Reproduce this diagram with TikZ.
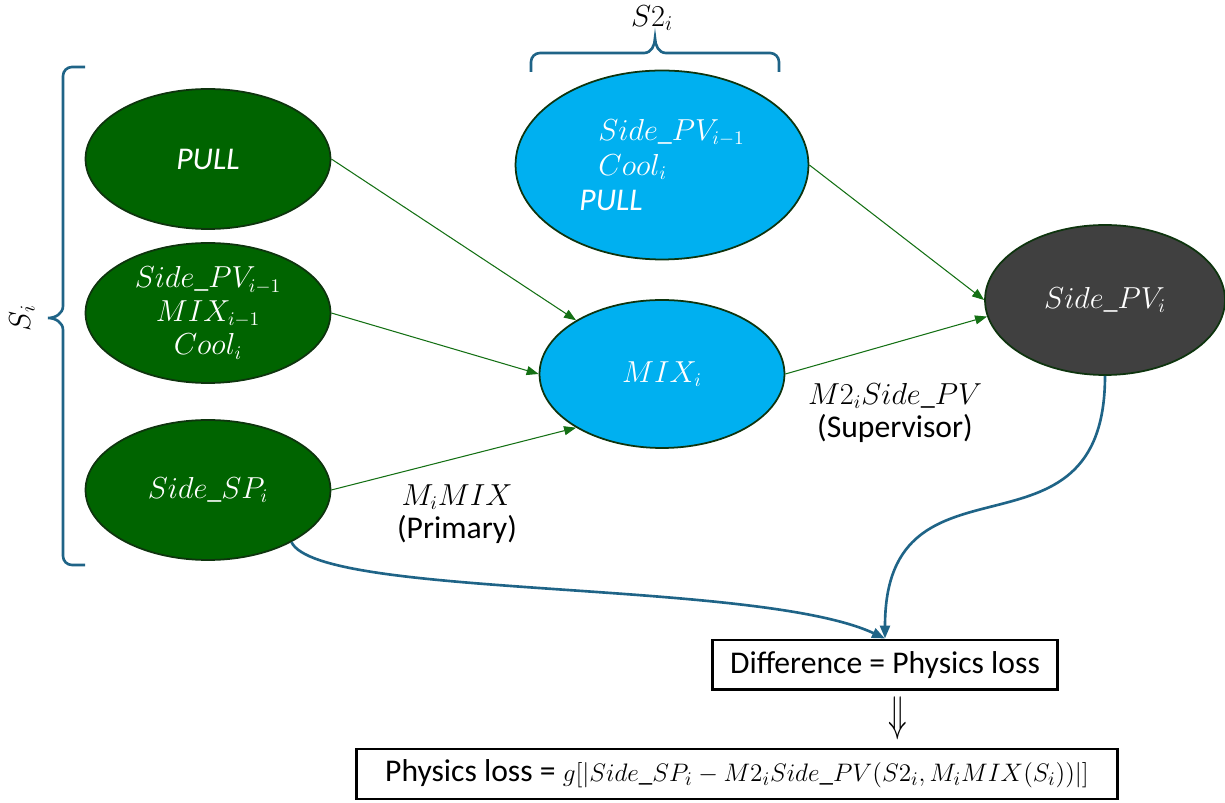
\documentclass[tikz,border=0pt]{standalone}
\usepackage{fontspec}
\setmainfont{Carlito}
\usetikzlibrary{shapes.geometric,arrows.meta}
\definecolor{leafgreen}{RGB}{0,100,0}
\definecolor{skyblue}{RGB}{0,176,240}
\definecolor{darkgray}{RGB}{64,64,64}
\definecolor{edgegreen}{RGB}{14,52,14}
\definecolor{flowgreen}{RGB}{20,112,20}
\definecolor{lossblue}{RGB}{31,100,135}
\newcommand{\mth}[1]{{\fontsize{16}{19}\selectfont$#1$}}
\newcommand{\mthsmall}[1]{{\fontsize{15.4}{19}\selectfont$#1$}}

\begin{document}
\begin{tikzpicture} % 1 unita' = 1 pixel del disegno
  [x=0.02cm, y=-0.02cm,
   ell/.style={
    ellipse,
    draw=edgegreen,
    line width=1pt,
    text=white,
    inner sep=-4pt,
    minimum width=4.9cm,
    minimum height=2.8cm,
    align=center,
    font=\fontsize{16}{19}\selectfont
    },
   greenell/.style={ell, fill=leafgreen},
   blueell/.style={ell, fill=skyblue},
   darkell/.style={ell, fill=darkgray},
   box/.style={
    rectangle,
    draw=black,
    line width=1.7pt,
    minimum height=1cm,
    inner xsep=4pt,
    font=\fontsize{18}{21}\selectfont
    },
   lbl/.style={align=center, font=\fontsize{18}{19}\selectfont},
   flow/.style={-{Triangle[length=0.24cm,width=0.18cm]}, draw=flowgreen, line width=0.6pt},
   loss/.style={-{Triangle[length=0.26cm,width=0.2cm]}, draw=lossblue, line width=1.5pt},
   brace/.style={draw=lossblue, line width=1.5pt}
  ]
  \useasboundingbox (0,0) rectangle (1225,803);

  % ingressi S_i
  \node [greenell] (pull) at (208,159) {\fontsize{18}{19}\selectfont\itshape PULL};
  \node [greenell] (sidein) at (208,313) {$Side\_PV_{i-1}$\\$MIX_{i-1}$\\$Cool_i$};
  \node [greenell] (sidesp) at (208,490) {$Side\_SP_i$};

  % ingressi S2_i
  \node [
    blueell,
    minimum width=5.86cm,
    minimum height=3.78cm,
    align=left
    ]
    (stwo) at (662,165)
    {\hspace*{0.38cm}$Side\_PV_{i-1}$\\[1pt]
     \hspace*{0.38cm}$Cool_i$\\[1pt]
     {\fontsize{18}{19}\selectfont\itshape PULL}};

  \node [blueell, minimum height=2.96cm] (mix) at (662,374) {$MIX_i$};
  \node [darkell, minimum width=4.8cm, minimum height=3cm] (sidepv) at (1105,300) {$Side\_PV_i$};

  \node [lbl] (primary) at (457,514) {\mth{M_iMIX}\\(Primary)};
  \node [lbl] (supervisor) at (895,413) {\mth{M2_iSide\_PV}\\(Supervisor)};

  \node [box, minimum width=6.9cm] (diff) at (885,665) {Difference = Physics loss};
  \node (implies) at (898,718) {\fontsize{17}{17}\selectfont\scalebox{1}[1.6]{$\Downarrow$}};
  \node [box, minimum width=15.24cm] (physloss) at (737,774)
    {Physics loss = \mthsmall{g[|Side\_SP_i-M2_iSide\_PV(S2_i,M_iMIX(S_i))|]}};

  % graffe
  \node [rotate=90, font=\fontsize{18}{19}\selectfont] (si) at (22,318) {$S_i$};
  \node [font=\fontsize{18}{19}\selectfont] (stwoi) at (652,18) {$S2_i$};
  \draw[brace] (85,67) -- (72,67) to[out=180,in=90] (63,76) -- (63,306) to[out=-90,in=0] (48,318)
    to[out=0,in=90] (63,330) -- (63,556) to[out=-90,in=180] (72,565) -- (85,565);
  \draw[brace] (531,72) -- (531,62) to[out=90,in=180] (540,53) -- (644,53) to[out=0,in=-90] (655,38)
    to[out=-90,in=180] (666,53) -- (770,53) to[out=0,in=90] (779,62) -- (779,72);

  \draw[flow] (pull.east) -- (mix.148);
  \draw[flow] (sidein.east) -- (mix.west);
  \draw[flow] (sidesp.east) -- (mix.212);
  \draw[flow] (stwo.east) -- (sidepv.west);
  \draw[flow] (mix.east) -- (sidepv.188);

  \draw[loss] (sidesp.-32) to[out=-64,in=155,out looseness=0.27,in looseness=0.6] (diff.north);
  \draw[loss] (sidepv.south) to[out=-90,in=90,looseness=1.5] (diff.north);
\end{tikzpicture}
\end{document}
